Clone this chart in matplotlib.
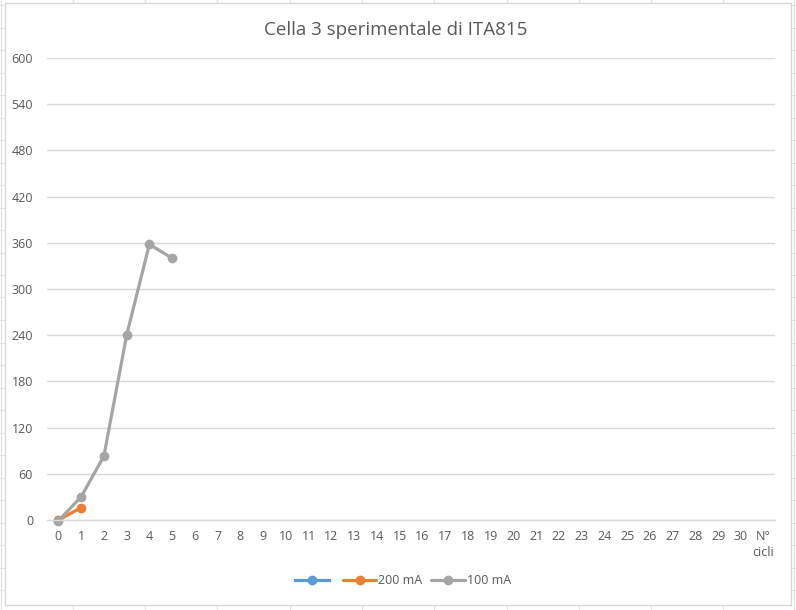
import matplotlib
matplotlib.use("Agg")
import matplotlib.pyplot as plt
from matplotlib.patches import Rectangle
from matplotlib.lines import Line2D

# chart data
categories = [str(i) for i in range(31)] + ["N°\ncicli"]
cycles_100 = [0, 1, 2, 3, 4, 5]
values_100 = [-1, 30, 83, 240, 358, 340]
cycles_200 = [0, 1]
values_200 = [0, 16]
y_ticks = [0, 60, 120, 180, 240, 300, 360, 420, 480, 540, 600]

blue = "#5b9bd5"
orange = "#ed7d31"
gray = "#a5a5a5"
txt = "#595959"
grid = "#d9d9d9"

W, H = 796, 610
fig = plt.figure(figsize=(W / 100, H / 100), dpi=100)
fig.patch.set_facecolor("white")

# spreadsheet cells behind the chart
sheet_col = "#e1e1e1"
for x in [1, 73, 145, 217, 290, 362, 434, 507, 579, 651, 723, 794]:
    fig.add_artist(Line2D([x / W, x / W], [0, 1], color=sheet_col, lw=0.8, zorder=0))
y = 5
while y < H:
    fig.add_artist(Line2D([0, 1], [1 - y / H, 1 - y / H], color=sheet_col, lw=0.8, zorder=0))
    y += 22.5
fig.add_artist(Rectangle((5 / W, 1 - 605 / H), (791 - 5) / W, (605 - 3) / H,
                         facecolor="white", edgecolor=grid, lw=1.0, zorder=1))

ax = fig.add_axes([47 / W, 1 - 520 / H, (775 - 47) / W, (520 - 58) / H], zorder=2)
ax.set_facecolor("none")

ax.plot([], [], color=blue, lw=2.3, marker="o", ms=6, label=" ")
ax.plot(cycles_200, values_200, color=orange, lw=2.3, marker="o", ms=6,
        label="200 mA", solid_capstyle="round", clip_on=False)
ax.plot(cycles_100, values_100, color=gray, lw=2.3, marker="o", ms=6,
        label="100 mA", solid_capstyle="round", clip_on=False)

ax.set_xlim(-0.5, len(categories) - 0.5)
ax.set_ylim(0, 600)
ax.set_xticks(range(len(categories)))
ax.set_xticklabels(categories, fontsize=9, color=txt, family="Open Sans",
                   va="top", linespacing=1.35)
ax.set_yticks(y_ticks)
ax.set_yticklabels([str(v) for v in y_ticks], fontsize=9, color=txt, family="Open Sans")
ax.tick_params(axis="both", length=0)
ax.tick_params(axis="x", pad=7)
ax.tick_params(axis="y", pad=10)

ax.grid(axis="y", color=grid, lw=1.0)
ax.set_axisbelow(True)
for side in ["top", "right", "left"]:
    ax.spines[side].set_visible(False)
ax.spines["bottom"].set_color(grid)
ax.spines["bottom"].set_linewidth(1.0)

fig.text(396 / W, 1 - 30 / H, "Cella 3 sperimentale di ITA815", ha="center", va="center",
         fontsize=13.5, color=txt, family="Open Sans")

leg = fig.legend(loc="center", bbox_to_anchor=(403 / W, 1 - 581 / H), ncol=3,
                 frameon=False, handlelength=2.7, columnspacing=0.7,
                 handletextpad=0.15, prop={"family": "Open Sans", "size": 9})
for t in leg.get_texts():
    t.set_color(txt)

fig.savefig("out.png", dpi=100)
